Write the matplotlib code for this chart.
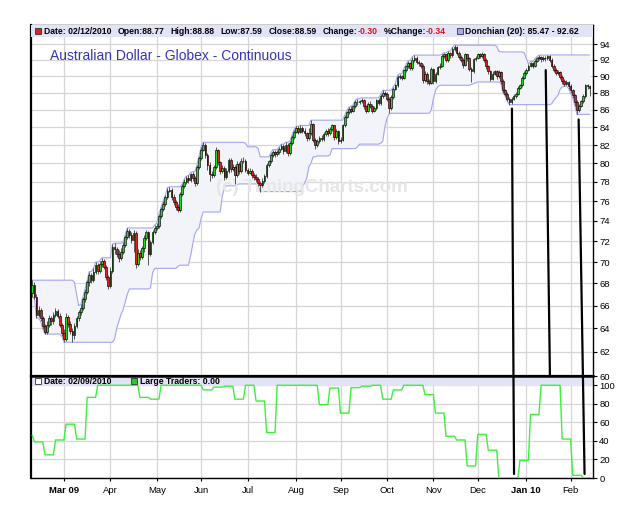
import numpy as np
import pandas as pd
import matplotlib
matplotlib.use("Agg")
import matplotlib.pyplot as plt
from matplotlib.patches import Rectangle, ConnectionPatch
from matplotlib.ticker import FixedLocator, FixedFormatter, NullLocator

plt.rcParams['font.family'] = ['Liberation Sans', 'DejaVu Sans']

# ---------------- data ----------------
dates = pd.bdate_range("2009-02-09", "2010-02-12")

opens = [
    67.1, 67.9, 66.8, 65.2, 65.6, 64.9, 64.2, 63.7, 64.3, 64.9,
    64.6, 65.2, 65.5, 65.1, 64.3, 63.6, 63.1, 65.0, 64.4, 63.8,
    63.4, 64.2, 64.9, 65.4, 65.8, 66.6, 67.2, 68.1, 68.8, 68.3,
    69.1, 69.7, 69.2, 69.8, 70.1, 69.5, 68.6, 67.8, 69.2, 71.4,
    71.2, 70.8, 70.4, 71.0, 71.6, 72.4, 73.0, 72.6, 72.1, 72.8,
    69.8, 70.9, 70.5, 71.3, 72.3, 72.9, 70.8, 71.9, 72.9, 73.3,
    73.5, 74.5, 75.2, 75.7, 76.4, 77.1, 77.2, 76.4, 75.9, 75.4,
    75.1, 76.7, 77.6, 78.0, 78.4, 78.2, 78.8, 78.4, 77.9, 79.6,
    80.6, 81.5, 82.0, 80.9, 79.8, 78.9, 78.7, 79.6, 81.4, 80.1,
    79.2, 79.5, 78.5, 79.2, 80.4, 79.4, 79.6, 78.7, 79.9, 79.2,
    80.3, 80.3, 79.3, 79.0, 79.2, 78.7, 78.5, 78.3, 77.9, 77.7,
    78.1, 78.6, 79.8, 80.2, 80.9, 81.2, 81.0, 81.2, 81.6, 81.9,
    81.3, 82.0, 81.1, 82.2, 82.9, 83.5, 83.9, 83.5, 83.9, 83.6,
    83.3, 82.8, 83.3, 84.4, 82.6, 82.0, 82.4, 82.8, 82.7, 83.2,
    83.6, 83.3, 83.8, 84.2, 82.9, 83.6, 82.4, 82.6, 84.2, 85.2,
    85.7, 86.1, 85.9, 86.4, 86.9, 86.9, 87.0, 87.1, 86.4, 85.9,
    86.7, 86.5, 85.9, 86.2, 87.1, 86.8, 87.6, 88.0, 87.9, 87.3,
    86.2, 87.5, 88.5, 88.9, 89.9, 90.0, 89.8, 90.7, 91.2, 91.6,
    91.0, 92.0, 92.3, 91.8, 91.6, 91.3, 89.5, 90.3, 89.4, 89.2,
    90.9, 89.4, 90.3, 91.1, 91.3, 92.5, 92.7, 92.0, 92.9, 92.6,
    93.4, 93.6, 92.9, 92.4, 92.0, 91.4, 92.7, 92.2, 90.9, 90.6,
    92.1, 92.3, 92.7, 92.5, 92.8, 92.0, 91.2, 90.6, 89.7, 90.3,
    90.6, 90.0, 90.5, 89.4, 88.3, 87.9, 87.3, 86.9, 87.3, 87.6,
    87.9, 88.6, 88.9, 89.8, 90.4, 90.8, 91.3, 91.6, 91.3, 91.9,
    92.2, 92.4, 92.1, 92.3, 92.2, 92.5, 92.0, 91.3, 90.8, 90.4,
    90.5, 89.9, 89.4, 89.1, 89.3, 88.8, 88.3, 87.7, 86.9, 86.0,
    86.5, 87.0, 87.6, 88.9, 88.77,
]

highs = [
    68.3, 68.1, 67.0, 66.0, 65.8, 65.1, 64.4, 64.6, 65.2, 65.1,
    65.4, 65.8, 65.7, 65.3, 64.5, 63.9, 65.3, 65.2, 64.6, 64.0,
    64.5, 65.1, 65.6, 66.1, 66.8, 67.5, 68.3, 69.1, 69.0, 69.4,
    70.0, 69.9, 70.1, 70.4, 70.3, 69.7, 68.8, 69.5, 71.7, 71.8,
    71.4, 71.1, 71.3, 71.9, 72.6, 73.3, 73.2, 72.9, 73.1, 73.0,
    71.2, 71.1, 71.5, 72.6, 73.1, 73.0, 72.1, 73.1, 73.6, 73.8,
    74.7, 75.4, 76.0, 76.6, 77.4, 77.5, 77.4, 76.7, 76.1, 75.7,
    76.9, 77.8, 78.3, 78.6, 78.7, 79.0, 79.1, 78.6, 79.8, 80.8,
    81.8, 82.3, 82.2, 81.1, 80.1, 79.2, 79.8, 81.8, 81.6, 80.3,
    79.8, 79.7, 79.5, 80.6, 80.6, 79.9, 79.8, 80.2, 80.1, 80.6,
    80.7, 80.5, 79.5, 79.5, 79.4, 79.0, 78.8, 78.5, 78.1, 78.4,
    78.8, 80.0, 80.4, 81.1, 81.5, 81.4, 81.5, 81.8, 82.1, 82.1,
    82.3, 82.2, 82.4, 83.1, 83.7, 84.1, 84.1, 84.2, 84.1, 83.9,
    83.5, 83.9, 84.8, 84.5, 82.8, 82.7, 83.0, 83.1, 83.4, 83.8,
    83.9, 84.0, 84.4, 84.3, 83.8, 83.7, 82.9, 84.4, 85.4, 85.9,
    86.3, 86.4, 86.6, 87.1, 87.3, 87.2, 87.4, 87.3, 86.6, 86.9,
    87.0, 86.7, 86.5, 87.3, 87.4, 87.8, 88.3, 88.2, 88.1, 87.5,
    87.7, 88.7, 89.1, 90.1, 90.3, 90.2, 90.9, 91.4, 91.9, 91.8,
    92.4, 92.6, 92.5, 92.0, 91.8, 91.5, 90.6, 90.5, 89.7, 91.1,
    91.0, 90.5, 91.3, 91.6, 92.7, 92.9, 92.8, 93.1, 93.0, 93.6,
    93.85, 93.7, 93.1, 92.6, 92.2, 92.9, 92.8, 92.4, 91.1, 92.3,
    92.5, 92.9, 92.9, 93.0, 92.9, 92.2, 91.4, 90.8, 90.6, 90.8,
    90.8, 90.7, 90.6, 89.6, 88.5, 88.1, 87.5, 87.5, 87.8, 88.1,
    88.8, 89.1, 90.0, 90.6, 91.0, 91.5, 91.8, 91.8, 92.1, 92.4,
    92.6, 92.5, 92.5, 92.5, 92.6, 92.62, 92.2, 91.5, 91.0, 90.7,
    90.6, 90.1, 89.6, 89.5, 89.4, 89.0, 88.5, 87.9, 87.1, 86.7,
    87.2, 87.8, 89.1, 89.0, 88.88,
]

lows = [
    66.8, 66.6, 64.9, 65.0, 64.6, 63.9, 63.5, 63.5, 64.1, 64.3,
    64.4, 65.0, 64.9, 64.1, 63.3, 62.8, 62.9, 64.1, 63.5, 62.8,
    63.1, 64.0, 64.6, 65.2, 65.6, 66.3, 67.0, 67.8, 68.0, 68.1,
    68.9, 68.9, 69.0, 69.5, 69.3, 68.3, 67.5, 67.6, 69.0, 70.8,
    70.5, 70.0, 70.2, 70.8, 71.4, 72.2, 72.3, 71.8, 71.0, 69.4,
    69.6, 70.2, 70.3, 71.0, 72.1, 69.7, 70.6, 71.7, 72.7, 73.1,
    73.3, 74.3, 75.0, 75.5, 76.2, 76.9, 76.1, 75.6, 75.1, 74.9,
    74.9, 76.5, 77.4, 77.8, 77.9, 78.0, 78.1, 77.6, 77.7, 79.4,
    80.4, 81.3, 80.6, 79.3, 78.1, 78.4, 78.5, 79.4, 79.8, 78.9,
    79.0, 78.2, 78.3, 79.0, 79.1, 79.2, 77.8, 78.5, 78.9, 79.0,
    80.0, 79.1, 78.7, 78.8, 78.4, 78.2, 78.0, 77.6, 77.0, 77.5,
    77.9, 78.4, 79.6, 80.0, 80.7, 80.7, 80.8, 81.0, 81.4, 81.0,
    81.1, 80.8, 80.9, 82.0, 82.7, 83.3, 83.2, 83.3, 83.3, 83.0,
    82.5, 82.6, 83.1, 82.3, 81.6, 81.8, 82.2, 82.4, 82.5, 83.0,
    83.0, 83.1, 83.6, 82.6, 82.7, 82.1, 82.2, 82.4, 84.0, 85.0,
    85.5, 85.6, 85.7, 86.2, 86.6, 86.7, 86.8, 86.1, 85.6, 85.7,
    86.2, 85.6, 85.7, 86.0, 86.6, 86.6, 87.4, 87.6, 87.0, 85.6,
    86.0, 87.3, 88.3, 88.7, 89.6, 89.5, 89.6, 90.5, 91.0, 90.7,
    90.8, 91.8, 91.5, 91.3, 91.0, 89.2, 89.3, 89.1, 88.9, 89.0,
    89.1, 89.2, 90.1, 90.9, 91.1, 92.3, 91.7, 91.8, 92.3, 92.4,
    93.1, 92.6, 92.1, 91.7, 91.0, 91.2, 91.9, 90.6, 89.3, 90.4,
    91.9, 92.1, 92.2, 92.3, 91.7, 90.9, 90.3, 89.4, 89.5, 90.1,
    89.7, 89.8, 89.1, 88.0, 87.6, 87.0, 86.6, 86.7, 87.1, 87.4,
    87.7, 88.4, 88.7, 89.6, 90.2, 90.6, 91.1, 91.0, 91.1, 91.7,
    92.0, 91.8, 91.9, 91.9, 92.0, 91.7, 91.0, 90.5, 90.1, 90.2,
    89.6, 89.1, 88.8, 88.9, 88.5, 88.0, 87.4, 86.5, 85.47, 85.8,
    86.3, 86.8, 87.4, 88.5, 87.59,
]

closes = [
    67.9, 66.8, 65.2, 65.6, 64.9, 64.2, 63.7, 64.3, 64.9, 64.6,
    65.2, 65.5, 65.1, 64.3, 63.6, 63.1, 65.0, 64.4, 63.8, 63.4,
    64.2, 64.9, 65.4, 65.8, 66.6, 67.2, 68.1, 68.8, 68.3, 69.1,
    69.7, 69.2, 69.8, 70.1, 69.5, 68.6, 67.8, 69.2, 71.4, 71.2,
    70.8, 70.4, 71.0, 71.6, 72.4, 73.0, 72.6, 72.1, 72.8, 69.8,
    70.9, 70.5, 71.3, 72.3, 72.9, 70.8, 71.9, 72.9, 73.3, 73.5,
    74.5, 75.2, 75.7, 76.4, 77.1, 77.2, 76.4, 75.9, 75.4, 75.1,
    76.7, 77.6, 78.0, 78.4, 78.2, 78.8, 78.4, 77.9, 79.6, 80.6,
    81.5, 82.0, 80.9, 79.8, 78.9, 78.7, 79.6, 81.4, 80.1, 79.2,
    79.5, 78.5, 79.2, 80.4, 79.4, 79.6, 78.7, 79.9, 79.2, 80.3,
    80.3, 79.3, 79.0, 79.2, 78.7, 78.5, 78.3, 77.9, 77.7, 78.1,
    78.6, 79.8, 80.2, 80.9, 81.2, 81.0, 81.2, 81.6, 81.9, 81.3,
    82.0, 81.1, 82.2, 82.9, 83.5, 83.9, 83.5, 83.9, 83.6, 83.3,
    82.8, 83.3, 84.4, 82.6, 82.0, 82.4, 82.8, 82.7, 83.2, 83.6,
    83.3, 83.8, 84.2, 82.9, 83.6, 82.4, 82.6, 84.2, 85.2, 85.7,
    86.1, 85.9, 86.4, 86.9, 86.9, 87.0, 87.1, 86.4, 85.9, 86.7,
    86.5, 85.9, 86.2, 87.1, 86.8, 87.6, 88.0, 87.9, 87.3, 86.2,
    87.5, 88.5, 88.9, 89.9, 90.0, 89.8, 90.7, 91.2, 91.6, 91.0,
    92.0, 92.3, 91.8, 91.6, 91.3, 89.5, 90.3, 89.4, 89.2, 90.9,
    89.4, 90.3, 91.1, 91.3, 92.5, 92.7, 92.0, 92.9, 92.6, 93.4,
    93.6, 92.9, 92.4, 92.0, 91.4, 92.7, 92.2, 90.9, 90.6, 92.1,
    92.3, 92.7, 92.5, 92.8, 92.0, 91.2, 90.6, 89.7, 90.3, 90.6,
    90.0, 90.5, 89.4, 88.3, 87.9, 87.3, 86.9, 87.3, 87.6, 87.9,
    88.6, 88.9, 89.8, 90.4, 90.8, 91.3, 91.6, 91.3, 91.9, 92.2,
    92.4, 92.1, 92.3, 92.2, 92.5, 92.0, 91.3, 90.8, 90.4, 90.5,
    89.9, 89.4, 89.1, 89.3, 88.8, 88.3, 87.7, 86.9, 86.0, 86.5,
    87.0, 87.6, 88.9, 88.8, 88.59,
]

# weekly Large Traders index (report Tuesdays)
lt_dates = pd.date_range("2009-02-03", "2010-02-09", freq="7D")
lt_values = [
    46, 39, 25, 41, 58, 42, 87, 100, 100, 100,
    100, 87, 85, 100, 100, 100, 100, 95, 98, 99,
    85, 100, 83, 49, 100, 100, 100, 100, 79, 97,
    70, 97.5, 99, 100, 85, 95, 100, 100, 90, 70,
    45, 41, 13, 47, 30, 0, 0, 19, 68.5, 100,
    100, 42, 3, 0,
]

price_ticks = [60, 62, 64, 66, 68, 70, 72, 74, 76, 78, 80, 82, 84, 86, 88, 90, 92, 94]
lt_ticks = [0, 20, 40, 60, 80, 100]
month_labels = ['Mar 09', 'Apr', 'May', 'Jun', 'Jul', 'Aug', 'Sep', 'Oct',
                'Nov', 'Dec', 'Jan 10', 'Feb']
bold_labels = ['Mar 09', 'Jan 10']

# hand-drawn annotation lines (bar index, value)
ann_start_x = [227.2, 243.2, 258.8]
ann_start_y = [86.14, 90.74, 84.88]
ann_end_x = [228.2, 245.2, 261.6]
ann_end_y = [4.3, 60.0, 4.3]
ann_end_panel = ['lower', 'upper', 'lower']

# ---------------- derived ----------------
N = len(dates)
x = np.arange(N)
o = np.array(opens); h = np.array(highs); l = np.array(lows); c = np.array(closes)
don_hi = pd.Series(h).rolling(20, min_periods=1).max().values
don_lo = pd.Series(l).rolling(20, min_periods=1).min().values
lt_daily = pd.Series(lt_values, index=lt_dates).reindex(dates, method='ffill').values
month_pos = [i for i in range(1, N) if dates[i].month != dates[i - 1].month]

# ---------------- figure ----------------
W, H = 625.0, 505.0
fig = plt.figure(figsize=(6.25, 5.05), dpi=100)
fig.patch.set_facecolor('white')
L, R = 31, 593
T1, B1, B2 = 25, 376, 478
ax = fig.add_axes([L / W, 1 - B1 / H, (R - L) / W, (B1 - T1) / H])
ax2 = fig.add_axes([L / W, 1 - B2 / H, (R - L) / W, (B2 - B1) / H])

grid_c = '#d6d6d6'
for a in (ax, ax2):
    a.set_xlim(-0.6, 265.6)
    a.set_xticks(month_pos)
    a.set_axisbelow(True)
    a.grid(True, color=grid_c, lw=0.9)
    a.yaxis.tick_right()
    a.tick_params(axis='y', labelsize=6.8, length=3, pad=1.5, width=0.8)
    for s in a.spines.values():
        s.set_linewidth(1.0)
        s.set_color('black')

# price panel
ax.set_yscale('log')
ax.set_ylim(60, 96.45)
ax.yaxis.set_major_locator(FixedLocator(price_ticks))
ax.yaxis.set_major_formatter(FixedFormatter([str(t) for t in price_ticks]))
ax.yaxis.set_minor_locator(NullLocator())
ax.tick_params(axis='x', length=0, labelbottom=False)
ax.spines['left'].set_linewidth(1.6)
ax.spines['bottom'].set_linewidth(1.6)

ax.fill_between(x, don_lo, don_hi, color='#f2f4f9', lw=0, zorder=1)
ax.plot(x, don_hi, color='#a4a4f4', lw=0.8, zorder=2)
ax.plot(x, don_lo, color='#a4a4f4', lw=0.8, zorder=2)

ax.text(312 / W, 1 - 188 / H, '(c) TimingCharts.com', transform=fig.transFigure,
        ha='center', va='center', fontsize=13.5, fontweight='bold',
        color='#e6e6e6', zorder=2.5)

up = c >= o
ax.vlines(x, l, h, color='#3c3c3c', lw=0.6, zorder=3)
ax.bar(x[up], (c - o)[up], bottom=o[up], width=0.8, color='#1fdc1f',
       edgecolor='black', linewidth=0.45, zorder=4)
ax.bar(x[~up], (o - c)[~up], bottom=c[~up], width=0.8, color='#e82020',
       edgecolor='black', linewidth=0.45, zorder=4)

# header bar (price panel)
hb = 12 / (B1 - T1)
ax.add_patch(Rectangle((0, 1 - hb), 1, hb, transform=ax.transAxes,
                       facecolor='#e3e3f8', edgecolor='none', zorder=6))
ax.text(50 / W, 1 - 56 / H, 'Australian Dollar - Globex - Continuous',
        transform=fig.transFigure, ha='left', va='center', fontsize=10,
        color='#3434bb', zorder=7)

# large traders panel
ax2.set_ylim(0, 110)
ax2.set_yticks(lt_ticks)
ax2.set_yticklabels([str(t) for t in lt_ticks])
ax2.plot(x, lt_daily, color='#3cf03c', lw=1.0, zorder=3)
ax2.set_xticklabels(month_labels)
ax2.tick_params(axis='x', labelsize=6.8, length=2.5, pad=3, width=0.8)
for lab in ax2.get_xticklabels():
    if lab.get_text() in bold_labels:
        lab.set_fontweight('bold')
ax2.spines['top'].set_linewidth(1.8)
ax2.spines['left'].set_linewidth(1.6)
hb2 = 10 / (B2 - B1)
ax2.add_patch(Rectangle((0, 1 - hb2), 1, hb2, transform=ax2.transAxes,
                        facecolor='#e3e3f8', edgecolor='none', zorder=2))

# header texts
fs = 6.2
def square(px, py, fc):
    fig.patches.append(Rectangle((px / W, 1 - (py + 3) / H), 6 / W, 6 / H,
                                 transform=fig.transFigure, facecolor=fc,
                                 edgecolor='#333333', lw=0.6, zorder=8))

square(35, 31, '#e02020')
square(457, 31, '#a8a8f0')
square(35, 381, 'white')
square(131, 381, '#22cc22')

fig.canvas.draw()
rend = fig.canvas.get_renderer()
pieces = [("Date: 02/12/2010", 'black', 6), ("Open:88.77", 'black', 6),
          ("High:88.88", 'black', 6), ("Low:87.59", 'black', 6),
          ("Close:88.59", 'black', 6), ("Change:", 'black', 0),
          ("-0.30", '#e01010', 6), ("%Change:", 'black', 0), ("-0.34", '#e01010', 0)]
px = 44.5
for txt, col, gap in pieces:
    t = fig.text(px / W, 1 - 31 / H, txt, fontsize=fs, fontweight='bold',
                 color=col, ha='left', va='center', zorder=9)
    px += t.get_window_extent(rend).width + gap
fig.text(465 / W, 1 - 31 / H, "Donchian (20): 85.47 - 92.62", fontsize=fs,
         fontweight='bold', ha='left', va='center', zorder=9)
fig.text(44.5 / W, 1 - 381 / H, "Date: 02/09/2010", fontsize=fs,
         fontweight='bold', ha='left', va='center', zorder=9)
fig.text(139.5 / W, 1 - 381 / H, "Large Traders: 0.00", fontsize=fs,
         fontweight='bold', ha='left', va='center', zorder=9)

# annotation lines
for xs, ys, xe, ye, pn in zip(ann_start_x, ann_start_y, ann_end_x, ann_end_y, ann_end_panel):
    con = ConnectionPatch(xyA=(xs, ys), coordsA=ax.transData,
                          xyB=(xe, ye), coordsB=(ax2.transData if pn == 'lower' else ax.transData),
                          color='black', lw=1.6, zorder=20)
    fig.add_artist(con)

fig.savefig('out.png', dpi=100)
